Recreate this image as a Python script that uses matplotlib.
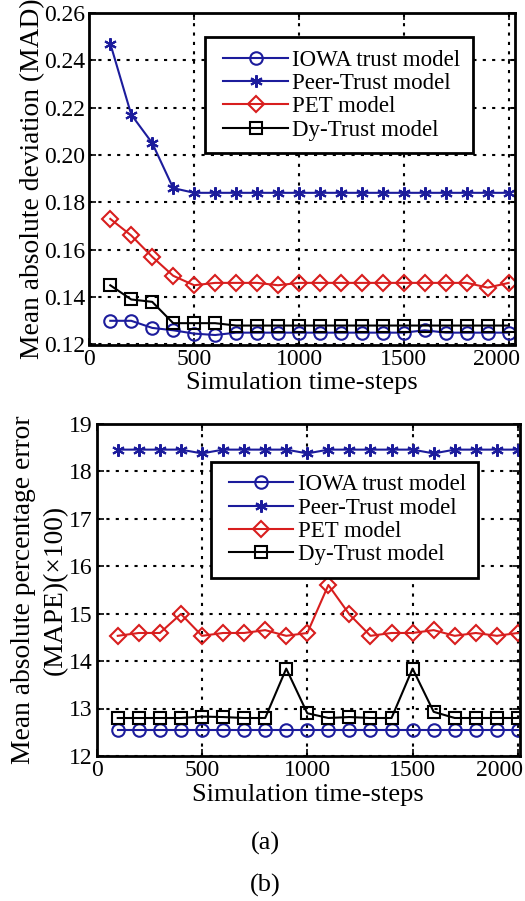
import matplotlib
matplotlib.use("Agg")
import matplotlib.pyplot as plt
import matplotlib.transforms as mtrans
from matplotlib.legend_handler import HandlerLine2D
import numpy as np

plt.rcParams['font.family'] = ['Liberation Serif', 'DejaVu Serif']
plt.rcParams['mathtext.fontset'] = 'stix'

# ---------------- data ----------------
steps = [100, 200, 300, 400, 500, 600, 700, 800, 900, 1000,
         1100, 1200, 1300, 1400, 1500, 1600, 1700, 1800, 1900, 2000]

labels = ['IOWA trust model', 'Peer-Trust model', 'PET model', 'Dy-Trust model']

# (a) MAD
mad_iowa = [0.130, 0.130, 0.127, 0.126, 0.1246, 0.124, 0.125, 0.125, 0.125, 0.125,
            0.125, 0.125, 0.125, 0.125, 0.125, 0.126, 0.125, 0.125, 0.125, 0.125]
mad_peer = [0.247, 0.217, 0.205, 0.186, 0.184, 0.184, 0.184, 0.184, 0.184, 0.184,
            0.184, 0.184, 0.184, 0.184, 0.184, 0.184, 0.184, 0.184, 0.184, 0.184]
mad_pet = [0.173, 0.166, 0.157, 0.149, 0.145, 0.146, 0.146, 0.146, 0.145, 0.146,
           0.146, 0.146, 0.146, 0.146, 0.146, 0.146, 0.146, 0.146, 0.144, 0.146]
mad_dy = [0.145, 0.139, 0.138, 0.129, 0.129, 0.129, 0.128, 0.128, 0.128, 0.128,
          0.128, 0.128, 0.128, 0.128, 0.128, 0.128, 0.128, 0.128, 0.128, 0.128]

# (b) MAPE (x100)
mape_iowa = [12.55] * 20
mape_peer = [18.45, 18.45, 18.45, 18.45, 18.37, 18.45, 18.45, 18.45, 18.45, 18.37,
             18.45, 18.45, 18.45, 18.45, 18.45, 18.37, 18.45, 18.45, 18.45, 18.45]
mape_pet = [14.53, 14.59, 14.59, 14.99, 14.53, 14.59, 14.59, 14.65, 14.53, 14.59,
            15.60, 14.98, 14.53, 14.59, 14.59, 14.65, 14.53, 14.59, 14.53, 14.59]
mape_dy = [12.80, 12.80, 12.80, 12.80, 12.83, 12.82, 12.80, 12.80, 13.84, 12.90,
           12.80, 12.82, 12.80, 12.80, 13.84, 12.93, 12.80, 12.80, 12.80, 12.80]

xticks = [0, 500, 1000, 1500, 2000]
yticks_a = [0.12, 0.14, 0.16, 0.18, 0.20, 0.22, 0.24, 0.26]
yticks_b = [12, 13, 14, 15, 16, 17, 18, 19]

BLUE = '#1c1c9c'
RED = '#d81e1e'
BLACK = '#000000'

styles = [
    dict(color=BLUE, marker='o', ms=9, mfc='none'),
    dict(color=BLUE, marker=(6, 2, 0), ms=9),
    dict(color=RED, marker='D', ms=8, mfc='none'),
    dict(color=BLACK, marker='s', ms=8.5, mfc='none'),
]

W, H = 525, 901
fig = plt.figure(figsize=(W / 100, H / 100), dpi=100)


def px_axes(l, t, r, b):
    return fig.add_axes([l / W, 1 - b / H, (r - l) / W, (b - t) / H])


def style_axes(ax, xmax, ylim, yticks, yfmt, ylabel, legbox, lastshift,
               labelpad, linespacing):
    ax.set_xlim(0, xmax)
    ax.set_ylim(*ylim)
    ax.set_xticks(xticks)
    ax.set_yticks(yticks)
    ax.set_yticklabels([yfmt.format(v) for v in yticks])
    ax.tick_params(direction='in', length=5, width=1.2, labelsize=17, pad=3,
                   top=True, right=True)
    for s in ax.spines.values():
        s.set_linewidth(2.0)
    ax.grid(True, color='black', linestyle=(0, (1.5, 3)), linewidth=1.5)
    ax.set_axisbelow(True)
    ax.set_xlabel('Simulation time-steps', fontsize=19, labelpad=2)
    ax.set_ylabel(ylabel, fontsize=19.8, labelpad=labelpad,
                  linespacing=linespacing)
    # keep the last x tick label inside the figure
    fig.canvas.draw()
    lab = ax.get_xticklabels()[-1]
    lab.set_horizontalalignment('right')
    lab.set_transform(lab.get_transform() +
                      mtrans.ScaledTranslation(lastshift / 100, 0,
                                               fig.dpi_scale_trans))
    hm = {l: HandlerLine2D(xpad=0.25) for l in ax.get_lines()}
    leg = ax.legend(loc='upper left', bbox_to_anchor=legbox, fontsize=16.5,
                    frameon=True, fancybox=False, framealpha=1,
                    edgecolor='black', handlelength=3.05, handletextpad=0.2,
                    borderpad=0.55, labelspacing=0.1, borderaxespad=0,
                    handler_map=hm)
    leg.get_frame().set_linewidth(2.0)


# ---- panel (a)
ax1 = px_axes(89.3, 12.7, 515, 344.5)
for y, lab, st in zip([mad_iowa, mad_peer, mad_pet, mad_dy], labels, styles):
    ax1.plot(steps, y, label=lab, lw=1.5, mew=1.5, **st)
style_axes(ax1, 2030, (0.12, 0.26), yticks_a, '{:.2f}',
           'Mean absolute deviation (MAD)', (0.272, 0.927), 11, -1, 1.1)

# ---- panel (b)
ax2 = px_axes(96.7, 423.5, 520, 756)
for y, lab, st in zip([mape_iowa, mape_peer, mape_pet, mape_dy], labels, styles):
    ax2.plot(steps, y, label=lab, lw=1.5, mew=1.5, **st)
style_axes(ax2, 2010, (12, 19), yticks_b, '{:d}',
           'Mean absolute percentage error\n(MAPE)(\u00d7100)', (0.269, 0.885),
           5, 1, 1.35)

fig.text(265 / W, 1 - 843 / H, '(a)', ha='center', va='center', fontsize=19)
fig.text(265 / W, 1 - 885 / H, '(b)', ha='center', va='center', fontsize=19)

fig.savefig('out.png', dpi=100)
